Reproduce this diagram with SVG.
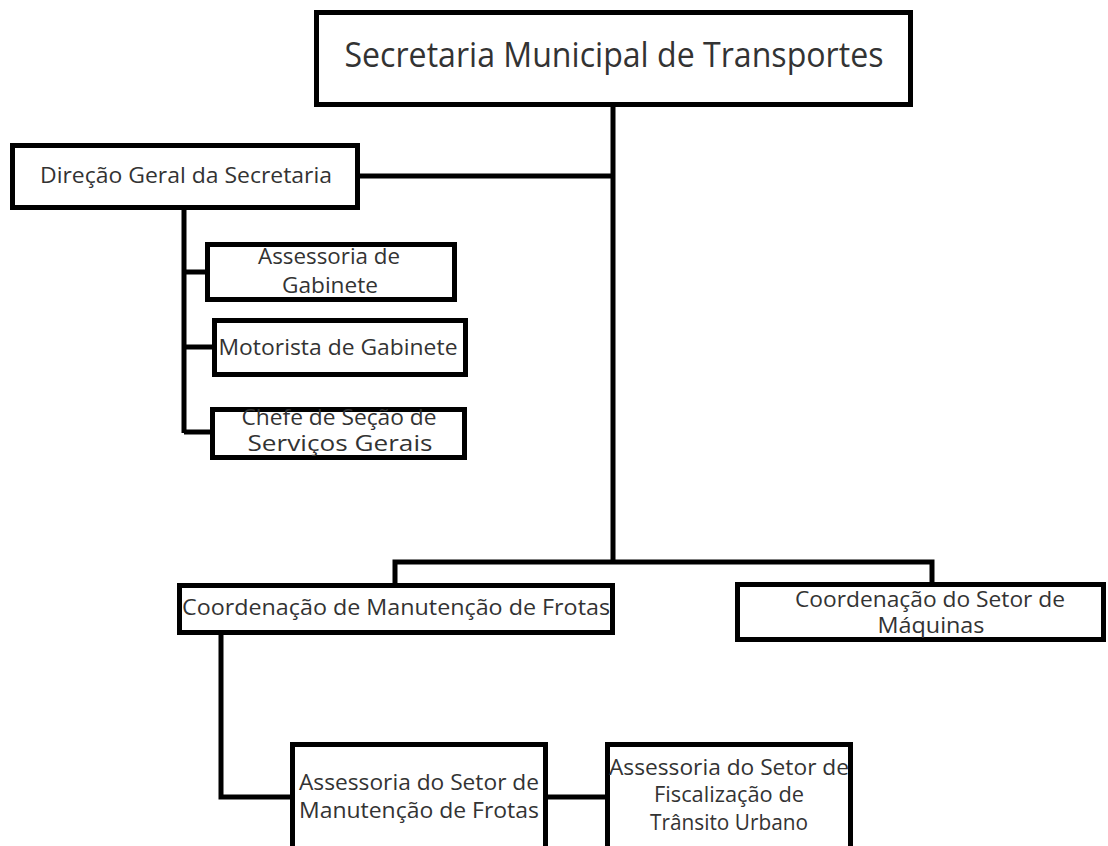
<svg xmlns="http://www.w3.org/2000/svg" width="1108" height="846" viewBox="0 0 1108 846">
<style>
.box{fill:#fff;stroke:#000;stroke-width:5}
.ln{fill:none;stroke:#000;stroke-width:5}
text{font-family:"Open Sans","Noto Sans",sans-serif;fill:#333;text-anchor:middle}
.t{font-size:21px}
.big{font-size:35px}
</style>
<rect width="1108" height="846" fill="#fff"/>
<g id="connectors">
<path class="ln" d="M613 105V562"/>
<path class="ln" d="M358 176H613"/>
<path class="ln" d="M184 208V433"/>
<path class="ln" d="M184 272H207M184 347H214M184 432H212"/>
<path class="ln" d="M395 585V562H932V584"/>
<path class="ln" d="M221 633V797H292"/>
<path class="ln" d="M546 797H607"/>
</g>
<g id="n-secretaria">
<rect class="box" x="316.5" y="12.5" width="594" height="92"/>
<text class="big" x="614" y="67" textLength="539" lengthAdjust="spacingAndGlyphs">Secretaria Municipal de Transportes</text>
</g>
<g id="n-direcao">
<rect class="box" x="12.5" y="145.5" width="345" height="62"/>
<text class="t" x="186" y="183" textLength="292" lengthAdjust="spacingAndGlyphs">Direção Geral da Secretaria</text>
</g>
<g id="n-assessoria-gab">
<rect class="box" x="207.5" y="244.5" width="247" height="55"/>
<text class="t" x="329" y="264" textLength="142" lengthAdjust="spacingAndGlyphs">Assessoria de</text>
<text class="t" x="330" y="293" textLength="96" lengthAdjust="spacingAndGlyphs">Gabinete</text>
</g>
<g id="n-motorista">
<rect class="box" x="214.5" y="320.5" width="251" height="54"/>
<text class="t" x="338" y="355" textLength="239" lengthAdjust="spacingAndGlyphs">Motorista de Gabinete</text>
</g>
<g id="n-chefe">
<rect class="box" x="212.5" y="409.5" width="252" height="48"/>
<text class="t" x="339" y="425" textLength="195" lengthAdjust="spacingAndGlyphs">Chefe de Seção de</text>
<text class="t" x="340" y="451" textLength="185" lengthAdjust="spacingAndGlyphs">Serviços Gerais</text>
</g>
<g id="n-coord-frotas">
<rect class="box" x="179.5" y="585.5" width="433" height="47"/>
<text class="t" x="396" y="615" textLength="428" lengthAdjust="spacingAndGlyphs">Coordenação de Manutenção de Frotas</text>
</g>
<g id="n-coord-maquinas">
<rect class="box" x="737.5" y="584.5" width="366" height="55"/>
<text class="t" x="930" y="607" textLength="270" lengthAdjust="spacingAndGlyphs">Coordenação do Setor de</text>
<text class="t" x="931" y="633" textLength="107" lengthAdjust="spacingAndGlyphs">Máquinas</text>
</g>
<g id="n-assess-manut">
<rect class="box" x="292.5" y="744.5" width="253" height="130"/>
<text class="t" x="419" y="790" textLength="240" lengthAdjust="spacingAndGlyphs">Assessoria do Setor de</text>
<text class="t" x="419" y="818" textLength="240" lengthAdjust="spacingAndGlyphs">Manutenção de Frotas</text>
</g>
<g id="n-assess-fiscal">
<rect class="box" x="607.5" y="744.5" width="243" height="130"/>
<text class="t" x="729" y="775" textLength="240" lengthAdjust="spacingAndGlyphs">Assessoria do Setor de</text>
<text class="t" x="729" y="802" textLength="150" lengthAdjust="spacingAndGlyphs">Fiscalização de</text>
<text class="t" x="729" y="830" textLength="158" lengthAdjust="spacingAndGlyphs">Trânsito Urbano</text>
</g>
</svg>
